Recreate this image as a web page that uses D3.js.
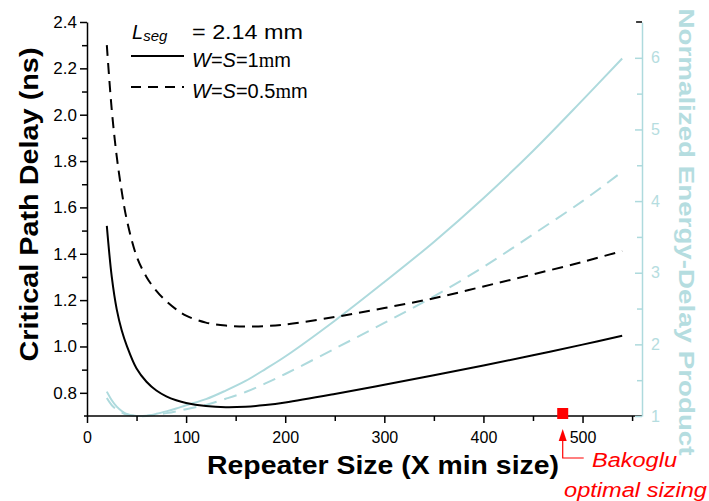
<!DOCTYPE html>
<html>
<head>
<meta charset="utf-8">
<script src="https://cdn.jsdelivr.net/npm/d3@7"></script>
<style>
  html, body { margin: 0; padding: 0; background: #fff; }
  svg { display: block; font-family: "Liberation Sans", Arial, sans-serif; }
</style>
</head>
<body>
<svg id="chart" width="709" height="501"></svg>
<script>
// Repeater size (multiples of minimum size)
const sizes = [20, 25, 30, 35, 40, 50, 60, 70, 80, 90, 100, 120, 140, 160, 180, 200, 250, 300, 350, 400, 450, 500, 540];
// Critical path delay (ns), W=S=1mm wires
const delayWide = [1.52, 1.30, 1.16, 1.07, 1.005, 0.905, 0.848, 0.810, 0.785, 0.768, 0.756, 0.743, 0.738, 0.740, 0.747, 0.758, 0.795, 0.835, 0.876, 0.918, 0.962, 1.008, 1.046];
// Critical path delay (ns), W=S=0.5mm wires
const delayNarrow = [2.30, 2.02, 1.82, 1.67, 1.55, 1.39, 1.30, 1.24, 1.195, 1.16, 1.133, 1.103, 1.090, 1.086, 1.088, 1.095, 1.127, 1.166, 1.208, 1.259, 1.311, 1.365, 1.412];
// Normalized energy-delay product, W=S=1mm wires
const edpWide = [1.34, 1.22, 1.13, 1.07, 1.03, 1.0, 1.005, 1.03, 1.065, 1.105, 1.15, 1.235, 1.355, 1.49, 1.655, 1.83, 2.33, 2.87, 3.43, 4.04, 4.70, 5.41, 5.99];
// Normalized energy-delay product, W=S=0.5mm wires
const edpNarrow = [1.25, 1.15, 1.09, 1.05, 1.02, 1.0, 1.0, 1.02, 1.04, 1.065, 1.095, 1.155, 1.24, 1.335, 1.455, 1.586, 1.94, 2.30, 2.67, 3.08, 3.535, 4.00, 4.41];

// Axis ticks
const xMajor = [0, 100, 200, 300, 400, 500];
const xMinor = [50, 150, 250, 350, 450, 550];
const yMajor = [0.8, 1.0, 1.2, 1.4, 1.6, 1.8, 2.0, 2.2, 2.4];
const yMinor = [0.9, 1.1, 1.3, 1.5, 1.7, 1.9, 2.1, 2.3];
const rMajor = [1, 2, 3, 4, 5, 6];
const rMinor = [1.5, 2.5, 3.5, 4.5, 5.5];

// Marked repeater size
const bakogluSize = 480;

const cyan = "#aedadd";
const cyanText = "#b5dde0";

const svg = d3.select("#chart");

const x = d3.scaleLinear().domain([0, 560]).range([87, 642]);
const yL = d3.scaleLinear().domain([0.7, 2.4]).range([416, 22]);
const yR = d3.scaleLinear().domain([1, 6.5]).range([416, 22]);

// ---- curves ----
const smooth = d3.curveCatmullRom.alpha(0.5);
const lineL = vals => d3.line()
  .x((d, i) => x(sizes[i]))
  .y(d => yL(d))
  .curve(smooth)(vals);
const lineR = vals => d3.line()
  .x((d, i) => x(sizes[i]))
  .y(d => yR(d))
  .curve(smooth)(vals);

const curves = svg.append("g").attr("fill", "none");
curves.append("path").attr("d", lineR(edpWide))
  .attr("stroke", cyan).attr("stroke-width", 2);
curves.append("path").attr("d", lineR(edpNarrow))
  .attr("stroke", cyan).attr("stroke-width", 2).attr("stroke-dasharray", "13,8");
curves.append("path").attr("d", lineL(delayWide))
  .attr("stroke", "#000").attr("stroke-width", 2);
curves.append("path").attr("d", lineL(delayNarrow))
  .attr("stroke", "#000").attr("stroke-width", 2).attr("stroke-dasharray", "11,7");

// ---- axes ----
function styleAxis(g, color) {
  g.select(".domain").attr("stroke", color).attr("stroke-width", 1.5);
  g.selectAll(".tick line").attr("stroke", color).attr("stroke-width", 1.5);
  g.selectAll(".tick text").attr("fill", color)
    .attr("font-size", 16).attr("font-family", "Liberation Sans, Arial, sans-serif");
}

// bottom axis
const gx = svg.append("g").attr("transform", "translate(0,416)")
  .call(d3.axisBottom(x).tickValues(xMajor).tickSize(7).tickSizeOuter(0).tickPadding(9));
styleAxis(gx, "#000");
gx.select(".domain").attr("d", "M84,0H642");
const gxm = svg.append("g").attr("transform", "translate(0,416)")
  .call(d3.axisBottom(x).tickValues(xMinor).tickSize(5).tickFormat(""));
gxm.select(".domain").remove();
styleAxis(gxm, "#000");

// left axis
const gy = svg.append("g").attr("transform", "translate(87,0)")
  .call(d3.axisLeft(yL).tickValues(yMajor).tickFormat(d3.format(".1f")).tickSize(7).tickSizeOuter(0).tickPadding(3));
styleAxis(gy, "#000");
gy.selectAll(".tick text").attr("font-size", 17);
const gym = svg.append("g").attr("transform", "translate(87,0)")
  .call(d3.axisLeft(yL).tickValues(yMinor).tickSize(5).tickFormat(""));
gym.select(".domain").remove();
styleAxis(gym, "#000");

// right axis
const gr = svg.append("g").attr("transform", "translate(642,0)")
  .call(d3.axisRight(yR).tickValues(rMajor).tickFormat(d3.format("d")).tickSize(-7).tickSizeOuter(0).tickPadding(9));
styleAxis(gr, cyan);
gr.selectAll(".tick text").attr("fill", cyanText).attr("x", 9);
const grm = svg.append("g").attr("transform", "translate(642,0)")
  .call(d3.axisRight(yR).tickValues(rMinor).tickSize(-5).tickFormat(""));
grm.select(".domain").remove();
styleAxis(grm, cyan);

// small frame tick at the top right corner
svg.append("line").attr("x1", x(550) + 4).attr("x2", x(560)).attr("y1", yR(6.5)).attr("y2", yR(6.5))
  .attr("stroke", "#000").attr("stroke-width", 1.5);

// ---- axis titles ----
svg.append("text")
  .attr("transform", "translate(38,204.5) rotate(-90)")
  .attr("text-anchor", "middle")
  .attr("font-weight", "bold").attr("font-size", 26)
  .attr("textLength", 314).attr("lengthAdjust", "spacingAndGlyphs")
  .text("Critical Path Delay (ns)");

svg.append("text")
  .attr("x", 383).attr("y", 474)
  .attr("text-anchor", "middle")
  .attr("font-weight", "bold").attr("font-size", 25)
  .attr("textLength", 352).attr("lengthAdjust", "spacingAndGlyphs")
  .text("Repeater Size (X min size)");

svg.append("text")
  .attr("transform", "translate(679,232) rotate(90)")
  .attr("text-anchor", "middle")
  .attr("font-weight", "bold").attr("font-size", 22)
  .attr("fill", cyanText)
  .attr("textLength", 447).attr("lengthAdjust", "spacingAndGlyphs")
  .text("Normalized Energy-Delay Product");

// ---- legend ----
const leg = svg.append("g").attr("font-size", 20);
const t0 = leg.append("text").attr("x", 132).attr("y", 39);
t0.append("tspan").attr("font-style", "italic").text("L");
t0.append("tspan").attr("font-style", "italic").attr("font-size", 15).attr("dy", 2).text("seg");
leg.append("text").attr("x", 192).attr("y", 39)
  .attr("textLength", 111).attr("lengthAdjust", "spacingAndGlyphs")
  .text("= 2.14 mm");

leg.append("line").attr("x1", 131).attr("x2", 184).attr("y1", 56).attr("y2", 56)
  .attr("stroke", "#000").attr("stroke-width", 2);
const t1 = leg.append("text").attr("x", 192).attr("y", 67);
t1.append("tspan").attr("font-style", "italic").text("W");
t1.append("tspan").text("=");
t1.append("tspan").attr("font-style", "italic").text("S");
t1.append("tspan").text("=1");
t1.append("tspan").attr("font-family", "Liberation Serif, serif").text("m");
t1.append("tspan").text("m");

leg.append("line").attr("x1", 131).attr("x2", 184).attr("y1", 87).attr("y2", 87)
  .attr("stroke", "#000").attr("stroke-width", 2).attr("stroke-dasharray", "10,7");
const t2 = leg.append("text").attr("x", 192).attr("y", 98);
t2.append("tspan").attr("font-style", "italic").text("W");
t2.append("tspan").text("=");
t2.append("tspan").attr("font-style", "italic").text("S");
t2.append("tspan").text("=0.5");
t2.append("tspan").attr("font-family", "Liberation Serif, serif").text("m");
t2.append("tspan").text("m");

// ---- Bakoglu optimal sizing marker ----
const bx = x(bakogluSize);
svg.append("rect").attr("x", bx - 5.5).attr("y", 408).attr("width", 11).attr("height", 11)
  .attr("fill", "#ff0000");
svg.append("path")
  .attr("d", `M${bx},440V458H${bx + 21}`)
  .attr("fill", "none").attr("stroke", "#ff0000").attr("stroke-width", 1.2);
svg.append("path")
  .attr("d", `M${bx},429L${bx - 4},441L${bx + 4},441Z`)
  .attr("fill", "#ff0000");
svg.append("text").attr("x", 592).attr("y", 467)
  .attr("fill", "#ff0000").attr("font-style", "italic").attr("font-size", 20)
  .attr("textLength", 85).attr("lengthAdjust", "spacingAndGlyphs")
  .text("Bakoglu");
svg.append("text").attr("x", 564).attr("y", 497)
  .attr("fill", "#ff0000").attr("font-style", "italic").attr("font-size", 20)
  .attr("textLength", 143).attr("lengthAdjust", "spacingAndGlyphs")
  .text("optimal sizing");
</script>
</body>
</html>
